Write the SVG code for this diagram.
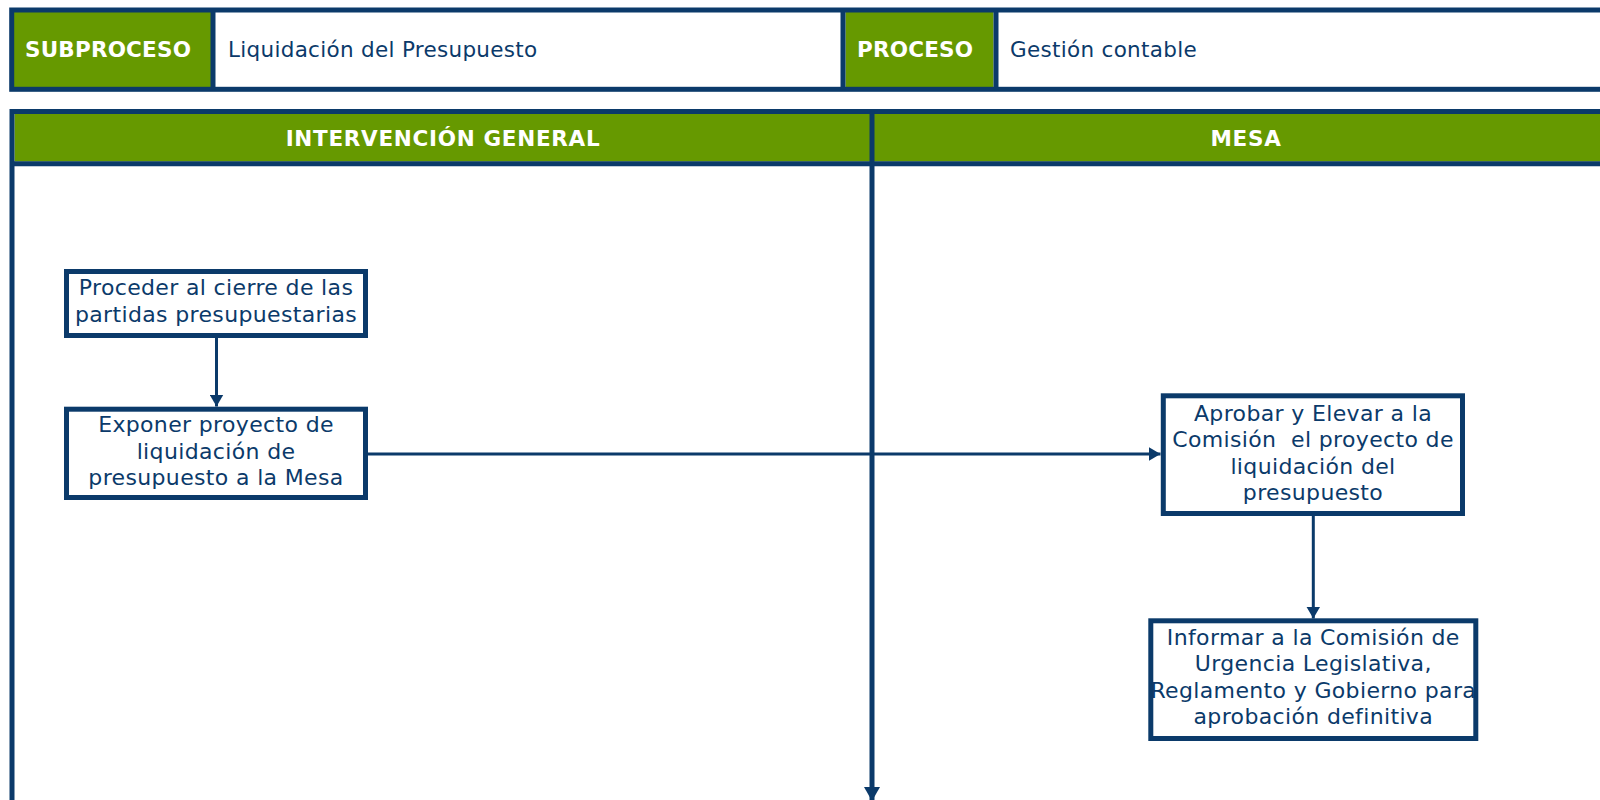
<svg xmlns="http://www.w3.org/2000/svg" width="1600" height="800" viewBox="0 0 1600 800">
  <defs>
    <style>
      .frame { fill: none; stroke: #0B3A6A; stroke-width: 5; }
      .green { fill: #669900; stroke: none; }
      .div { stroke: #0B3A6A; stroke-width: 5; fill: none; }
      .hdr { font-family: "DejaVu Sans", Verdana, sans-serif; font-size: 21.5px; font-weight: bold; fill: #FFFFFF; letter-spacing: 0.2px; }
      .hdrtxt { font-family: "DejaVu Sans", Verdana, sans-serif; font-size: 21.5px; fill: #0B3A6A; letter-spacing: 0.3px; }
      .lane { font-family: "DejaVu Sans", Verdana, sans-serif; font-size: 21.5px; font-weight: bold; fill: #FFFFFF; letter-spacing: 0.7px; text-anchor: middle; }
      .box { fill: #FFFFFF; stroke: #0B3A6A; stroke-width: 5; }
      .btxt { font-family: "DejaVu Sans", Verdana, sans-serif; font-size: 22px; fill: #0B3A6A; text-anchor: middle; letter-spacing: 0.35px; }
      .conn { stroke: #0B3A6A; stroke-width: 3; fill: none; marker-end: url(#arrow); }
    </style>
    <marker id="arrow" markerUnits="userSpaceOnUse" markerWidth="13" markerHeight="14" refX="12" refY="7" orient="auto">
      <path d="M0,0 L12,7 L0,14 z" fill="#0B3A6A"/>
    </marker>
    <marker id="arrowBig" markerUnits="userSpaceOnUse" markerWidth="15" markerHeight="16" refX="14" refY="8" orient="auto">
      <path d="M0,0 L14,8 L0,16 z" fill="#0B3A6A"/>
    </marker>
  </defs>

  <rect width="1600" height="800" fill="#FFFFFF"/>

  <!-- Header bar -->
  <g id="header">
    <rect class="green" x="14" y="12" width="197" height="75.5"/>
    <rect class="green" x="845.5" y="12" width="148" height="75.5"/>
    <rect class="frame" x="11.7" y="10" width="1620" height="79.3"/>
    <line class="div" x1="213" y1="10" x2="213" y2="89.3"/>
    <line class="div" x1="843" y1="10" x2="843" y2="89.3"/>
    <line class="div" x1="996" y1="10" x2="996" y2="89.3"/>
    <text class="hdr" x="25" y="57">SUBPROCESO</text>
    <text class="hdrtxt" x="228" y="57">Liquidación del Presupuesto</text>
    <text class="hdr" x="857" y="57">PROCESO</text>
    <text class="hdrtxt" x="1010" y="57">Gestión contable</text>
  </g>

  <!-- Swimlanes -->
  <g id="lanes">
    <rect class="green" x="14.5" y="114" width="1600" height="47.5"/>
    <rect class="frame" x="12" y="111.5" width="1620" height="720"/>
    <line class="div" x1="12" y1="163.8" x2="1620" y2="163.8"/>
    <text class="lane" x="443" y="145.5">INTERVENCIÓN GENERAL</text>
    <text class="lane" x="1246" y="145.5">MESA</text>
  </g>

  <g id="lane-divider">
    <line x1="872" y1="111.5" x2="872" y2="801" stroke="#0B3A6A" stroke-width="5" marker-end="url(#arrowBig)"/>
  </g>

  <!-- Connectors -->
  <g id="connectors">
    <line class="conn" x1="216.5" y1="338" x2="216.5" y2="406.5"/>
    <line class="conn" x1="368" y1="454" x2="1160.5" y2="454"/>
    <line class="conn" x1="1313.3" y1="516" x2="1313.3" y2="618.5"/>
  </g>

  <!-- Nodes -->
  <g id="node-cierre">
    <rect class="box" x="66.5" y="271.5" width="299" height="64"/>
    <text class="btxt" x="216" y="295">Proceder al cierre de las</text>
    <text class="btxt" x="216" y="321.5">partidas presupuestarias</text>
  </g>

  <g id="node-exponer">
    <rect class="box" x="66.5" y="409.2" width="299" height="88.3"/>
    <text class="btxt" x="216" y="432">Exponer proyecto de</text>
    <text class="btxt" x="216" y="458.5">liquidación de</text>
    <text class="btxt" x="216" y="485">presupuesto a la Mesa</text>
  </g>

  <g id="node-aprobar">
    <rect class="box" x="1163.3" y="395.8" width="299.2" height="117.7"/>
    <text class="btxt" x="1313" y="420.5">Aprobar y Elevar a la</text>
    <text class="btxt" x="1313" y="447" xml:space="preserve">Comisión  el proyecto de</text>
    <text class="btxt" x="1313" y="473.5">liquidación del</text>
    <text class="btxt" x="1313" y="500">presupuesto</text>
  </g>

  <g id="node-informar">
    <rect class="box" x="1150.8" y="620.8" width="325" height="117.7"/>
    <text class="btxt" x="1313.3" y="644.5">Informar a la Comisión de</text>
    <text class="btxt" x="1313.3" y="671">Urgencia Legislativa,</text>
    <text class="btxt" x="1313.3" y="697.5">Reglamento y Gobierno para</text>
    <text class="btxt" x="1313.3" y="724">aprobación definitiva</text>
  </g>
</svg>
